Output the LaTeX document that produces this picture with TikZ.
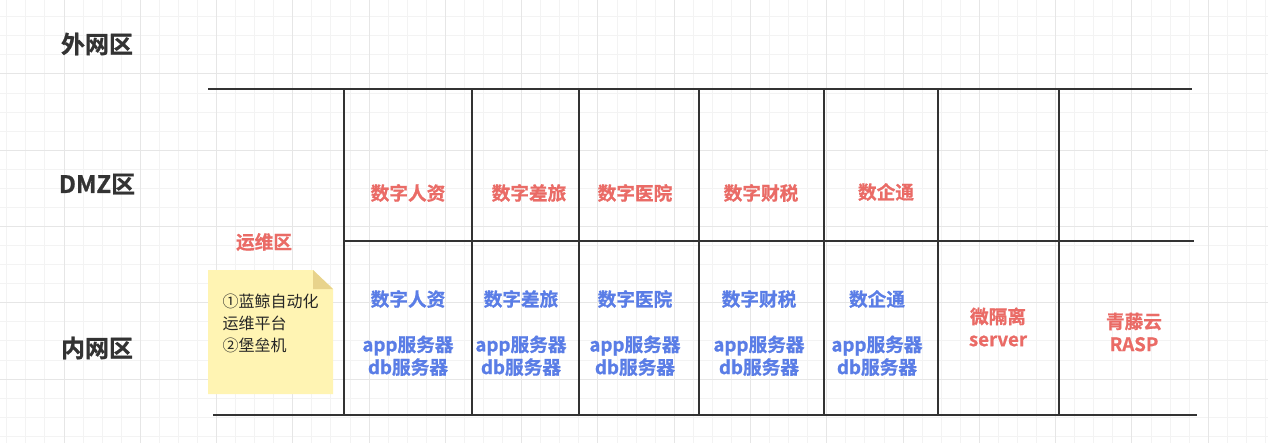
\documentclass[tikz,border=0pt]{standalone}
\usepackage{fontspec}
\setmainfont{Noto Sans CJK SC}[BoldFont=* Bold, BoldFeatures={FakeBold=0.8}]
\usetikzlibrary{positioning}

\definecolor{zonegray}{HTML}{333333}
\definecolor{dmzred}{HTML}{EA6B66}
\definecolor{innerblue}{HTML}{5A7DE6}
\definecolor{notefill}{HTML}{FFF4B3}
\definecolor{notefold}{HTML}{E8D38C}
\definecolor{minorgrid}{HTML}{F3F3F3}
\definecolor{majorgrid}{HTML}{E6E6E6}

\begin{document}
\begin{tikzpicture}
  [
  x = 0.75pt, y = -0.75pt,
  % grid
  minorline/.style = {draw = minorgrid, line width = 0.75pt},
  majorline/.style = {draw = majorgrid, line width = 0.75pt},
  % table
  wall/.style = {draw = zonegray, line width = 1.3pt},
  % zone names
  zone/.style = {text = zonegray, font = \fontsize{18}{22}\selectfont\bfseries},
  dmz/.style = {text = dmzred, align = center,
    font = \fontsize{14}{17}\selectfont\bfseries},
  inner/.style = {text = innerblue, align = center,
    font = \fontsize{14}{17}\selectfont\bfseries},
  notetext/.style = {text = black!85, align = left,
    font = \fontsize{12}{16.5}\selectfont},
  ]

  \useasboundingbox (0,0) rectangle (1268,443);
  \fill [white] (0,0) rectangle (1268,443);

  % grid
  \foreach \k in {0,...,66}
    \path [minorline] ({6.8+19.07*\k},0) -- ({6.8+19.07*\k},443);
  \foreach \k in {0,...,23}
    \path [minorline] (0,{-2.3+19.07*\k}) -- (1268,{-2.3+19.07*\k});
  \foreach \k in {0,...,15}
    \path [majorline] ({64+76.28*\k},0) -- ({64+76.28*\k},443);
  \foreach \k in {1,...,5}
    \path [majorline] (0,{-2.3+76.28*\k}) -- (1268,{-2.3+76.28*\k});

  % table
  \path [wall] (208,89) -- (1192,89);
  \path [wall] (344,241) -- (1194,241);
  \path [wall] (213,415) -- (1197,415);
  \foreach \x in {344,472,579,699,824,938,1059}
    \path [wall] (\x,89) -- (\x,415);

  % note
  \fill [notefill] (208,270) -- (313,270) -- (333,289) -- (333,394)
    -- (208,394) -- cycle;
  \fill [notefold] (313,270) -- (333,289) -- (313,289) -- cycle;

  % nodes
  \node [zone] (outer) at (97,44) {外网区};
  \node [zone] (dmzzone) at (97,184) {DMZ区};
  \node [zone] (innerzone) at (97,348) {内网区};
  \node [dmz] (ops) at (264,242) {运维区};
  \node [notetext, anchor = west] (opsnote) at (218,323)
    {①蓝鲸自动化\\运维平台\\②堡垒机};

  \node [dmz] (hrdmz) at (408,193) {数字人资};
  \node [dmz] (tripdmz) at (529,193) {数字差旅};
  \node [dmz] (hospdmz) at (635,193) {数字医院};
  \node [dmz] (taxdmz) at (761,193) {数字财税};
  \node [dmz] (qtdmz) at (886,192) {数企通};

  \node [inner] (hrin) at (408,333) {数字人资\\[17pt]app服务器\\db服务器};
  \node [inner] (tripin) at (521,333) {数字差旅\\[17pt]app服务器\\db服务器};
  \node [inner] (hospin) at (635,333) {数字医院\\[17pt]app服务器\\db服务器};
  \node [inner] (taxin) at (759,333) {数字财税\\[17pt]app服务器\\db服务器};
  \node [inner] (qtin) at (877,333) {数企通\\[17pt]app服务器\\db服务器};

  \node [dmz] (micro) at (998,327) {微隔离\\server};
  \node [dmz] (rasp) at (1134,332) {青藤云\\RASP};

\end{tikzpicture}
\end{document}
